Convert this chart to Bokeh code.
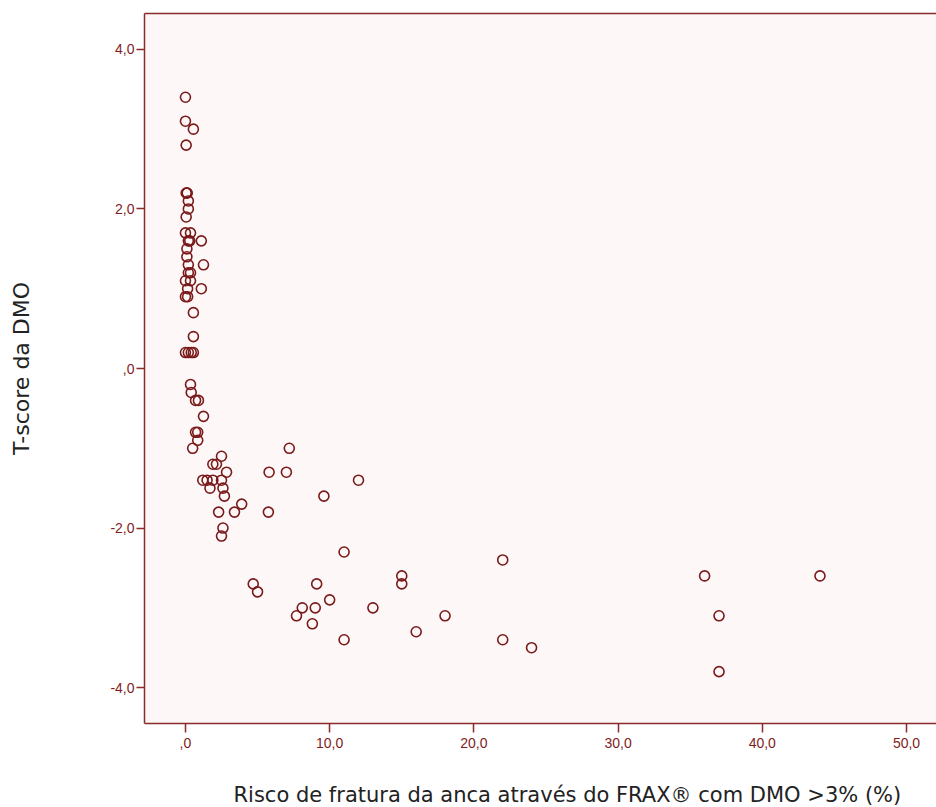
from bokeh.plotting import figure
from bokeh.layouts import column
from bokeh.models import Range1d, FixedTicker, LinearAxis
from bokeh.core.properties import value
from bokeh.embed import file_html
from bokeh.resources import INLINE

# FRAX hip fracture risk (%) and BMD T-score
frax = [0.0, 0.0, 0.55, 0.05, 0.05, 0.1, 0.12, 0.2, 0.2, 0.05,
        0.0, 0.35, 0.2, 0.3, 1.1, 0.1, 0.1, 0.2, 1.25, 0.2, 0.35,
        0.0, 0.35, 0.15, 1.1, 0.0, 0.15, 0.55, 0.55,
        0.0, 0.2, 0.4, 0.55, 0.35, 0.4, 0.7, 0.9, 1.25, 0.7, 0.85, 0.85, 0.5,
        2.5, 1.9, 2.15, 2.85, 5.8, 7.0, 7.2,
        1.2, 1.5, 1.9, 2.5, 12.0, 1.7, 2.6, 2.7, 9.6, 3.9,
        2.3, 3.4, 5.75, 2.6, 2.5, 11.0, 22.0,
        15.0, 36.0, 44.0, 4.7, 9.1, 15.0, 5.0, 10.0,
        8.1, 9.0, 13.0, 7.7, 18.0, 37.0, 8.8, 16.0, 11.0, 22.0, 24.0, 37.0]
tscore = [3.4, 3.1, 3.0, 2.8, 2.2, 2.2, 2.2, 2.1, 2.0, 1.9,
          1.7, 1.7, 1.6, 1.6, 1.6, 1.5, 1.4, 1.3, 1.3, 1.2, 1.2,
          1.1, 1.1, 1.0, 1.0, 0.9, 0.9, 0.7, 0.4,
          0.2, 0.2, 0.2, 0.2, -0.2, -0.3, -0.4, -0.4, -0.6, -0.8, -0.8, -0.9, -1.0,
          -1.1, -1.2, -1.2, -1.3, -1.3, -1.3, -1.0,
          -1.4, -1.4, -1.4, -1.4, -1.4, -1.5, -1.5, -1.6, -1.6, -1.7,
          -1.8, -1.8, -1.8, -2.0, -2.1, -2.3, -2.4,
          -2.6, -2.6, -2.6, -2.7, -2.7, -2.7, -2.8, -2.9,
          -3.0, -3.0, -3.0, -3.1, -3.1, -3.1, -3.2, -3.3, -3.4, -3.4, -3.5, -3.8]

x_ticks = [0, 10, 20, 30, 40, 50]
x_tick_labels = [",0", "10,0", "20,0", "30,0", "40,0", "50,0"]
y_ticks = [-4, -2, 0, 2, 4]
y_tick_labels = ["-4,0", "-2,0", ",0", "2,0", "4,0"]

x_title = "Risco de fratura da anca através do FRAX® com DMO >3% (%)"
y_title = "T-score da DMO"

axis_col = "#8a2a2a"
mark_col = "#7a1a1a"
label_col = "#821c1c"

p = figure(width=936, height=780, output_backend="svg", toolbar_location=None,
           x_range=Range1d(-2.84, 52.08), y_range=Range1d(-4.45, 4.45),
           min_border_left=144, min_border_right=0, min_border_top=13,
           min_border_bottom=57, background_fill_color="#fdf7f7",
           border_fill_color="white", outline_line_color=None)
p.xgrid.visible = False
p.ygrid.visible = False

p.scatter(frax, tscore, marker="circle", size=10, fill_color=None,
          line_color=mark_col, line_width=1.6)

for ax in (p.xaxis[0], p.yaxis[0]):
    ax.axis_line_color = axis_col
    ax.axis_line_width = 1.5
    ax.major_tick_line_color = axis_col
    ax.major_tick_line_width = 1.5
    ax.major_tick_in = 0
    ax.minor_tick_line_color = None
    ax.major_label_text_color = label_col
    ax.major_label_text_font = "Liberation Sans"
    ax.major_label_text_font_size = "14px"

p.xaxis[0].ticker = FixedTicker(ticks=x_ticks)
p.xaxis[0].major_label_overrides = dict(zip(x_ticks, x_tick_labels))
p.xaxis[0].major_tick_out = 9
p.xaxis[0].major_label_standoff = 5

p.yaxis[0].ticker = FixedTicker(ticks=y_ticks)
p.yaxis[0].major_label_overrides = dict(zip(y_ticks, y_tick_labels))
p.yaxis[0].major_tick_out = 8
p.yaxis[0].major_label_standoff = 2
p.yaxis[0].axis_label = y_title
p.yaxis[0].axis_label_text_font = "DejaVu Sans"
p.yaxis[0].axis_label_text_font_style = "normal"
p.yaxis[0].axis_label_text_font_size = "22px"
p.yaxis[0].axis_label_text_color = "#222222"
p.yaxis[0].axis_label_standoff = 73

top = LinearAxis(ticker=FixedTicker(ticks=[]), axis_line_color=axis_col,
                 axis_line_width=1.5, major_tick_line_color=None,
                 minor_tick_line_color=None, major_label_text_font_size="0px")
p.add_layout(top, "above")

# strip below the chart holding the x-axis title (its frame is aligned with
# the chart frame, which spans canvas pixels 144..936)
cap = figure(width=936, height=27, output_backend="svg", toolbar_location=None,
             x_range=Range1d(144, 936), y_range=Range1d(0, 27), min_border=0,
             outline_line_color=None, background_fill_color="white",
             border_fill_color="white")
cap.axis.visible = False
cap.grid.visible = False
cap.text(x=[233], y=[13], text=[x_title], text_align="left",
         text_baseline="middle", text_font=value("DejaVu Sans"),
         text_font_size="21px", text_color="#222222")

layout = column(p, cap, spacing=0)
open("out.html", "w").write(file_html(layout, INLINE))
